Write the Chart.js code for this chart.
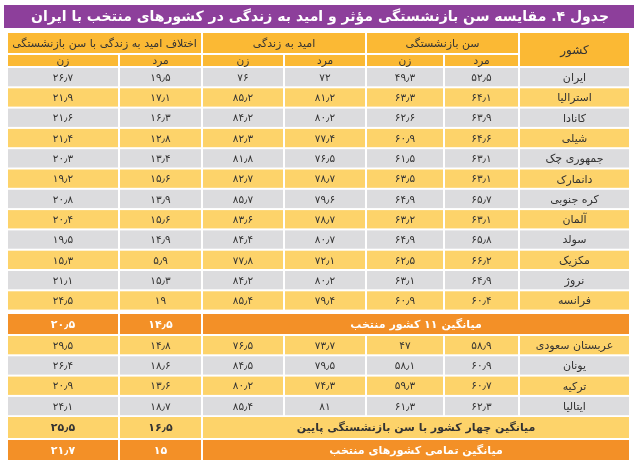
<!DOCTYPE html>
<html><head><meta charset="utf-8">
<script src="https://cdn.jsdelivr.net/npm/chart.js@4"></script>
<style>body{margin:0;background:#fff}</style>
</head><body>
<canvas id="tbl" width="640" height="469"></canvas>
<script>
const title = "جدول ۴. مقایسه سن بازنشستگی مؤثر و امید به زندگی در کشورهای منتخب با ایران";
const groupHeads = ["سن بازنشستگی", "امید به زندگی", "اختلاف امید به زندگی با سن بازنشستگی"];
const subHeads = ["مرد", "زن"];
const countries = ["ایران", "استرالیا", "کانادا", "شیلی", "جمهوری چک", "دانمارک", "کره جنوبی", "آلمان", "سولد", "مکزیک", "نروژ", "فرانسه"];
const retireMen = [52.5, 64.1, 63.9, 64.6, 63.1, 63.1, 65.7, 63.1, 65.8, 66.2, 64.9, 60.4];
const retireWomen = [49.3, 63.3, 62.6, 60.9, 61.5, 63.5, 64.9, 63.2, 64.9, 62.5, 63.1, 60.9];
const lifeMen = [72, 81.2, 80.2, 77.4, 76.5, 78.7, 79.6, 78.7, 80.7, 72.1, 80.2, 79.4];
const lifeWomen = [76, 85.2, 84.2, 82.3, 81.8, 82.7, 85.7, 83.6, 84.4, 77.8, 84.2, 85.4];
const gapMen = [19.5, 17.1, 16.3, 12.8, 13.4, 15.6, 13.9, 15.6, 14.9, 5.9, 15.3, 19];
const gapWomen = [26.7, 21.9, 21.6, 21.4, 20.3, 19.2, 20.8, 20.4, 19.5, 15.3, 21.1, 24.5];
const lowCountries = ["عربستان سعودی", "یونان", "ترکیه", "ایتالیا"];
const lowRetireMen = [58.9, 60.9, 60.7, 62.3];
const lowRetireWomen = [47, 58.1, 59.3, 61.3];
const lowLifeMen = [73.7, 79.5, 74.3, 81];
const lowLifeWomen = [76.5, 84.5, 80.2, 85.4];
const lowGapMen = [14.8, 18.6, 13.6, 18.7];
const lowGapWomen = [29.5, 26.4, 20.9, 24.1];
const avgLabels = ["میانگین ۱۱ کشور منتخب", "میانگین چهار کشور با سن بازنشستگی پایین", "میانگین تمامی کشورهای منتخب"];
const avgGapMen = [14.5, 16.5, 15];
const avgGapWomen = [20.5, 25.5, 21.7];

// layout (scale units == px)
const colEdges = [630, 519, 444, 366, 284, 202, 119, 7]; // right to left: country, rM, rW, lM, lW, gM, gW
const GREY = "#dcdcde", YEL = "#fdd36a", HEAD = "#fbb934", ORG = "#f39027";
const FONT = "'DejaVu Sans', sans-serif";

function fa(v) {
  return String(v).replace(".", "٫").replace(/\d/g, d => "۰۱۲۳۴۵۶۷۸۹"[d]);
}

const tablePlugin = {
  id: "table",
  afterDraw(chart) {
    const {ctx, scales: {x, y}} = chart;
    function cell(c0, c1, y0, y1, fill, text, color, bold, size) {
      const L = x.getPixelForValue(colEdges[c1]), R = x.getPixelForValue(colEdges[c0]);
      const T = y.getPixelForValue(y0), B = y.getPixelForValue(y1);
      ctx.fillStyle = fill;
      ctx.fillRect(L + 1, T + 1, R - L - 2, B - T - 2);
      if (text === undefined) return;
      ctx.fillStyle = color || "#333";
      ctx.font = (bold ? "bold " : "") + (size || 10.5) + "px " + FONT;
      ctx.textAlign = "center";
      ctx.textBaseline = "middle";
      ctx.direction = "rtl";
      ctx.fillText(text, (L + R) / 2, (T + B) / 2 + 1);
    }
    ctx.save();
    // title
    ctx.fillStyle = "#8d3f9b";
    ctx.fillRect(x.getPixelForValue(4), y.getPixelForValue(5), x.getPixelForValue(634) - x.getPixelForValue(4), y.getPixelForValue(28) - y.getPixelForValue(5));
    ctx.fillStyle = "#fff";
    ctx.font = "bold 14px " + FONT;
    ctx.textAlign = "center"; ctx.textBaseline = "middle"; ctx.direction = "rtl";
    ctx.fillText(title, x.getPixelForValue(320), y.getPixelForValue(17));
    // headers
    cell(0, 1, 32, 67, HEAD, "کشور", "#333", false, 12);
    groupHeads.forEach((h, g) => {
      cell(1 + 2 * g, 3 + 2 * g, 32, 54, HEAD, h, "#333", false, 11);
      subHeads.forEach((s, k) => cell(1 + 2 * g + k, 2 + 2 * g + k, 54, 67, HEAD, s, "#333", false, 10.5));
    });
    const P = 20.3;
    function dataRow(top, fill, name, vals) {
      cell(0, 1, top, top + P, fill, name, "#333", false, 11);
      vals.forEach((v, k) => cell(1 + k, 2 + k, top, top + P, fill, fa(v)));
    }
    countries.forEach((c, i) => dataRow(67 + P * i, i % 2 ? YEL : GREY, c,
      [retireMen[i], retireWomen[i], lifeMen[i], lifeWomen[i], gapMen[i], gapWomen[i]]));
    function avgRow(k, top, bot, fill, color) {
      cell(0, 5, top, bot, fill, avgLabels[k], color, true, 11);
      cell(5, 6, top, bot, fill, fa(avgGapMen[k]), color, true, 11);
      cell(6, 7, top, bot, fill, fa(avgGapWomen[k]), color, true, 11);
    }
    avgRow(0, 313, 335, ORG, "#fff");
    lowCountries.forEach((c, i) => dataRow(335 + P * i, i % 2 ? GREY : YEL, c,
      [lowRetireMen[i], lowRetireWomen[i], lowLifeMen[i], lowLifeWomen[i], lowGapMen[i], lowGapWomen[i]]));
    avgRow(1, 416, 439, YEL, "#333");
    avgRow(2, 439, 461, ORG, "#fff");
    ctx.restore();
  }
};

new Chart(document.getElementById("tbl"), {
  type: "scatter",
  data: { datasets: [{ data: [] }] },
  options: {
    responsive: false,
    animation: false,
    layout: { padding: 0 },
    plugins: { legend: { display: false }, tooltip: { enabled: false } },
    scales: {
      x: { type: "linear", min: 0, max: 640, display: false },
      y: { type: "linear", min: 0, max: 469, reverse: true, display: false }
    }
  },
  plugins: [tablePlugin]
});
</script>
</body></html>
